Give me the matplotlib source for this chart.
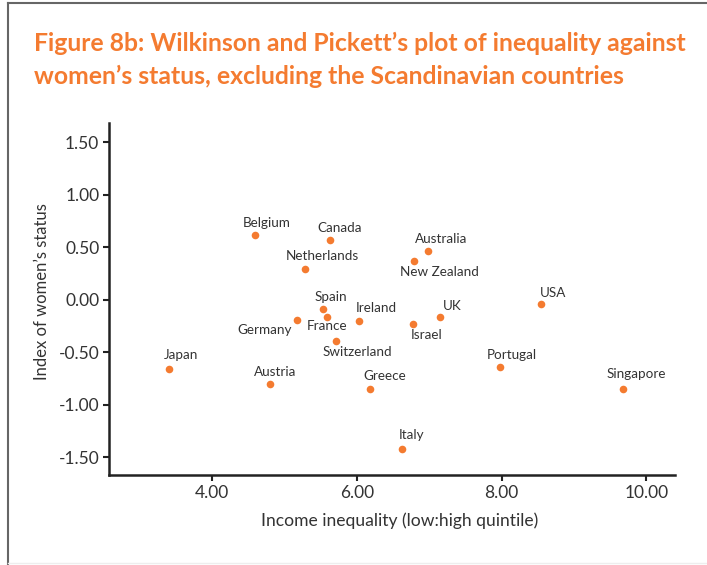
import matplotlib

matplotlib.use("Agg")

import matplotlib.pyplot as plt
from matplotlib.lines import Line2D

# Countries (excluding Scandinavia): income inequality vs index of women's status
COUNTRIES = [
    "Japan", "Austria", "Belgium", "Germany", "Netherlands", "Spain", "France",
    "Canada", "Switzerland", "Ireland", "Greece", "Italy", "Israel", "New Zealand",
    "Australia", "UK", "Portugal", "USA", "Singapore",
]
INCOME_INEQUALITY = [
    3.40, 4.80, 4.59, 5.18, 5.29, 5.53, 5.59,
    5.63, 5.71, 6.03, 6.18, 6.63, 6.77, 6.79,
    6.98, 7.15, 7.98, 8.54, 9.68,
]
WOMENS_STATUS = [
    -0.66, -0.80, 0.62, -0.19, 0.29, -0.09, -0.16,
    0.57, -0.39, -0.20, -0.85, -1.42, -0.23, 0.37,
    0.47, -0.16, -0.64, -0.04, -0.85,
]
X_TICKS = [4.0, 6.0, 8.0, 10.0]
Y_TICKS = [-1.5, -1.0, -0.5, 0.0, 0.5, 1.0, 1.5]

TITLE = ("Figure 8b: Wilkinson and Pickett\u2019s plot of inequality against\n"
         "women\u2019s status, excluding the Scandinavian countries")

# label offsets from each dot, in pixels (dx, dy)
LABEL_OFFSETS = {
    "Japan": (13, 14), "Austria": (5, 12), "Belgium": (12, 12),
    "Germany": (-33, -10), "Netherlands": (17, 13), "Spain": (8, 12),
    "France": (0, -9), "Canada": (10, 12), "Switzerland": (22, -11),
    "Ireland": (17, 13), "Greece": (15, 13), "Italy": (9, 14),
    "Israel": (14, -11), "New Zealand": (25, -11), "Australia": (13, 12),
    "UK": (12, 11), "Portugal": (12, 12), "USA": (12, 11), "Singapore": (13, 15),
}

ORANGE = "#F47B30"
TEXT = "#333333"
FONT = "Lato"

plt.rcParams["font.family"] = [FONT, "DejaVu Sans"]

fig = plt.figure(figsize=(7.07, 5.65), dpi=100)
ax = fig.add_axes([109 / 707, 1 - 475 / 565, (675 - 109) / 707, (475 - 123) / 565])

ax.scatter(INCOME_INEQUALITY, WOMENS_STATUS, s=30, color=ORANGE, linewidths=0, zorder=3)
for name, x, y in zip(COUNTRIES, INCOME_INEQUALITY, WOMENS_STATUS):
    dx, dy = LABEL_OFFSETS[name]
    ax.annotate(name, (x, y), xytext=(dx, dy), textcoords="offset pixels",
                ha="center", va="center", fontsize=9.7, color=TEXT)

ax.set_xlim(2.578, 10.395)
ax.set_ylim(-1.668, 1.685)
ax.set_xticks(X_TICKS)
ax.set_xticklabels([f"{v:.2f}" for v in X_TICKS])
ax.set_yticks(Y_TICKS)
ax.set_yticklabels([f"{v:.2f}" for v in Y_TICKS])
for side in ("top", "right"):
    ax.spines[side].set_visible(False)
for side in ("left", "bottom"):
    ax.spines[side].set_linewidth(1.8)
    ax.spines[side].set_color("#222222")
ax.tick_params(length=4, width=1.5, color="#222222", labelsize=12.5, labelcolor=TEXT, pad=3)

ax.set_xlabel("Income inequality (low:high quintile)", fontsize=12.6, color=TEXT)
ax.set_ylabel("Index of women\u2019s status", fontsize=12.0, color=TEXT)
ax.xaxis.set_label_coords(0.513, -46 / 352, transform=ax.transAxes)
ax.yaxis.set_label_coords(-67 / 566, 0.52, transform=ax.transAxes)
ax.xaxis.label.set_va("center")
ax.yaxis.label.set_va("center")

fig.text(34 / 707, 1 - 60 / 565, TITLE, ha="left", va="center", fontsize=17.8,
         fontweight="bold", color=ORANGE, linespacing=1.5)

# figure frame: top and left lines, faint bottom
fig.add_artist(Line2D([8 / 707, 1.0], [1 - 3 / 565] * 2, transform=fig.transFigure,
                      color="#666666", linewidth=1.5))
fig.add_artist(Line2D([8 / 707] * 2, [0.0, 1 - 3 / 565], transform=fig.transFigure,
                      color="#666666", linewidth=1.5))
fig.add_artist(Line2D([8 / 707, 1.0], [2 / 565] * 2, transform=fig.transFigure,
                      color="#eeeeee", linewidth=1.0))

fig.savefig("out.png", dpi=100)
